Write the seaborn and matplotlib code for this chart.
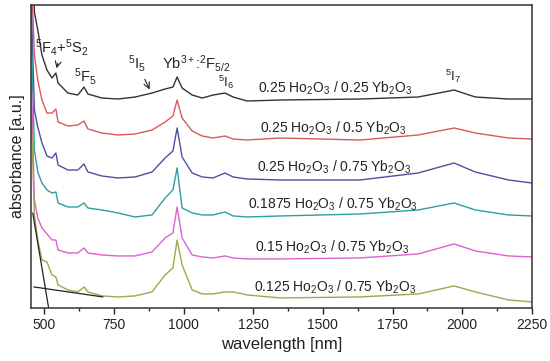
import pandas as pd
import matplotlib.pyplot as plt
import seaborn as sns
import numpy as np

# wavelength grid [nm]
wl = [452, 465, 477, 492, 510, 528, 542, 550, 585, 621, 643, 657, 707, 765, 826, 887,
      934, 962, 977, 995, 1031, 1067, 1106, 1149, 1178, 1228, 1347, 1634, 1842, 1971,
      2047, 2166, 2250]

# absorbance (arb. units, already stacked as in the figure)
a_025_025 = [388, 296, 278, 253, 238, 230, 235, 225, 215, 213, 221, 214, 210, 209, 211, 215,
             219, 221, 231, 220, 213, 210, 213, 215, 211, 207, 208, 209, 211, 218, 211, 209, 209]
a_025_05 = [348, 253, 228, 208, 195, 195, 199, 186, 182, 183, 187, 179, 175, 173, 174, 178,
            186, 192, 208, 190, 177, 172, 170, 172, 169, 168, 170, 168, 173, 180, 175, 170, 169]
a_025_075 = [318, 198, 181, 165, 152, 150, 155, 143, 138, 138, 144, 136, 132, 130, 131, 136,
             150, 157, 180, 151, 135, 131, 130, 135, 131, 129, 128, 128, 135, 145, 136, 128, 125]
a_01875_075 = [288, 158, 136, 125, 118, 115, 116, 105, 101, 101, 105, 100, 98, 95, 91, 93,
               110, 118, 140, 100, 95, 93, 93, 96, 92, 91, 92, 94, 98, 105, 98, 93, 92]
a_015_075 = [248, 108, 90, 80, 74, 68, 68, 58, 55, 55, 60, 55, 53, 52, 52, 56,
             70, 75, 101, 70, 53, 51, 50, 52, 50, 49, 49, 50, 54, 64, 57, 52, 51]
a_0125_075 = [208, 93, 68, 48, 46, 33, 31, 23, 18, 16, 21, 16, 12, 11, 12, 16,
              33, 40, 68, 43, 18, 14, 14, 16, 16, 13, 10, 11, 14, 22, 16, 8, 6]

# tangent lines drawn on the lowest curve
tan1_wl = [459, 516]
tan1_a = [95, 0]
tan2_wl = [463, 711]
tan2_a = [21, 11]

labels = [r"0.25 Ho$_2$O$_3$ / 0.25 Yb$_2$O$_3$",
          r"0.25 Ho$_2$O$_3$ / 0.5 Yb$_2$O$_3$",
          r"0.25 Ho$_2$O$_3$ / 0.75 Yb$_2$O$_3$",
          r"0.1875 Ho$_2$O$_3$ / 0.75 Yb$_2$O$_3$",
          r"0.15 Ho$_2$O$_3$ / 0.75 Yb$_2$O$_3$",
          r"0.125 Ho$_2$O$_3$ / 0.75 Yb$_2$O$_3$"]
label_x = [1544, 1537, 1540, 1535, 1533, 1544]
label_y = [220, 180, 141, 104, 61, 21]
colors = ["#333333", "#d65b5b", "#4f4f9e", "#2f9e9e", "#dc62cf", "#a8a34f"]

series = [a_025_025, a_025_05, a_025_075, a_01875_075, a_015_075, a_0125_075]
df = pd.concat([pd.DataFrame({"wavelength": wl, "absorbance": s, "sample": lab})
                for s, lab in zip(series, labels)])

sns.set_style("ticks")
plt.rcParams['font.family'] = ['Liberation Sans', 'DejaVu Sans']
plt.rcParams['mathtext.fontset'] = 'custom'
plt.rcParams['mathtext.rm'] = 'Liberation Sans'
plt.rcParams['mathtext.it'] = 'Liberation Sans'

fig = plt.figure(figsize=(5.5, 3.61), dpi=100)
ax = fig.add_axes([0.056, 0.147, 0.911, 0.839])
sns.lineplot(data=df, x="wavelength", y="absorbance", hue="sample",
             palette=colors, linewidth=1.0, legend=False, ax=ax, sort=False)
ax.plot(tan1_wl, tan1_a, color="#222222", lw=0.9)
ax.plot(tan2_wl, tan2_a, color="#222222", lw=0.9)

for lab, x, y in zip(labels, label_x, label_y):
    ax.text(x, y, lab, ha="center", va="center", fontsize=10, color="#222222")

# band assignments
ax.annotate(r"$^5$F$_4$+$^5$S$_2$", xy=(542, 237), xytext=(563, 261),
            ha="center", va="center", fontsize=10.5, color="#222222",
            arrowprops=dict(arrowstyle="->", color="#222222", lw=0.8))
ax.text(646, 232, r"$^5$F$_5$", ha="center", va="center", fontsize=10.5, color="#222222")
ax.annotate(r"$^5$I$_5$", xy=(883, 216), xytext=(833, 245),
            ha="center", va="center", fontsize=10.5, color="#222222",
            arrowprops=dict(arrowstyle="->", color="#222222", lw=0.8))
ax.text(1045, 245, r"Yb$^{3+}$:$^2$F$_{5/2}$", ha="center", va="center",
        fontsize=10.5, color="#222222")
ax.text(1152, 226, r"$^5$I$_6$", ha="center", va="center", fontsize=9.5, color="#222222")
ax.text(1968, 232, r"$^5$I$_7$", ha="center", va="center", fontsize=9.5, color="#222222")

ax.set_xlim(452, 2250)
ax.set_ylim(0, 303)
ax.set_xticks(np.arange(500, 2251, 250))
ax.set_xticks(np.arange(625, 2250, 250), minor=True)
ax.set_yticks([])
ax.tick_params(axis="x", which="major", length=4, width=1, labelsize=10, colors="#222222")
ax.tick_params(axis="x", which="minor", length=2.5, width=1, colors="#222222")
for sp in ax.spines.values():
    sp.set_visible(True)
    sp.set_linewidth(1.1)
    sp.set_color("#333333")
ax.set_xlabel("wavelength [nm]", fontsize=12, color="#222222", labelpad=3)
ax.set_ylabel("absorbance [a.u.]", fontsize=11.5, color="#222222", labelpad=4)

fig.savefig("out.png", dpi=100)
